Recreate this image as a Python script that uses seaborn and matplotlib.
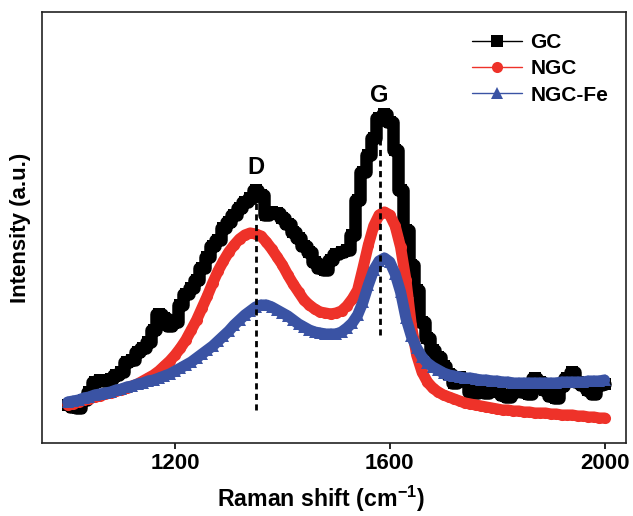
import numpy as np
import pandas as pd
import matplotlib
matplotlib.use("Agg")
import matplotlib.pyplot as plt
from matplotlib.lines import Line2D
import seaborn as sns

# ---- data (arbitrary intensity units) ----
wavenumber = list(range(1000, 2001, 10))

gc = [38, 36, 35, 43, 51, 61, 63, 62, 64, 68,
      71, 81, 83, 91, 95, 101, 113, 129, 125, 117,
      121, 138, 149, 155, 163, 175, 186, 197, 203, 215,
      221, 228, 235, 241, 245, 253, 248, 228, 231, 230,
      225, 219, 211, 205, 197, 191, 181, 175, 173, 183,
      189, 191, 193, 208, 243, 271, 288, 305, 325, 329,
      321, 293, 253, 213, 178, 153, 121, 105, 93, 86,
      77, 69, 60, 66, 63, 51, 50, 55, 50, 52,
      53, 48, 46, 51, 56, 51, 49, 65, 61, 53,
      47, 45, 57, 65, 71, 61, 58, 53, 49, 58,
      59]

ngc = [38, 39, 41, 43, 44, 46, 47, 49, 50, 52,
       53, 55, 57, 59, 62, 65, 68, 72, 77, 82,
       88, 95, 103, 113, 123, 135, 147, 160, 172, 182,
       191, 198, 204, 208, 210, 209, 207, 201, 194, 186,
       178, 168, 159, 151, 143, 138, 134, 131, 130, 129,
       130, 132, 137, 144, 153, 175, 198, 217, 228, 231,
       228, 217, 196, 163, 118, 88, 71, 61, 55, 51,
       48, 46, 44, 42, 40, 39, 38, 37, 36, 35,
       34, 33, 33, 32, 32, 31, 31, 30, 30, 30,
       29, 29, 28, 28, 28, 27, 27, 26, 26, 25,
       25]

ngc_fe = [41, 42, 43, 45, 46, 48, 49, 50, 51, 53,
          54, 56, 57, 59, 60, 62, 63, 65, 67, 69,
          72, 75, 78, 81, 85, 89, 93, 97, 102, 107,
          112, 118, 123, 128, 132, 136, 138, 138, 136, 133,
          130, 127, 123, 119, 116, 113, 111, 110, 109, 109,
          109, 111, 115, 120, 128, 141, 158, 173, 182, 185,
          181, 169, 151, 125, 107, 95, 86, 80, 76, 73,
          70, 68, 67, 66, 65, 65, 64, 63, 63, 62,
          62, 61, 61, 60, 60, 60, 60, 60, 60, 60,
          60, 60, 61, 61, 61, 61, 61, 62, 62, 62,
          63]

series_names = ["GC", "NGC", "NGC-Fe"]
series_colors = ["#000000", "#EE3229", "#3A53A4"]
series_markers = ["s", "o", "^"]

band_labels = ["D", "G"]
band_positions = [1351, 1581]
band_line_low = [33, 108]
band_line_high = [253, 325]
band_label_height = [275, 348]

# ---- style ----
sns.set_theme(style="white")
plt.rcParams["font.family"] = ["Liberation Sans", "DejaVu Sans"]
plt.rcParams["font.weight"] = "bold"
plt.rcParams["text.color"] = "black"
plt.rcParams["axes.labelcolor"] = "black"
plt.rcParams["xtick.color"] = "black"
plt.rcParams["mathtext.fontset"] = "custom"
plt.rcParams["mathtext.bf"] = "Liberation Sans:bold"
plt.rcParams["mathtext.rm"] = "Liberation Sans:bold"

fig = plt.figure(figsize=(6.33, 5.16), dpi=100)
ax = fig.add_axes([42 / 633, 1 - 443 / 516, (626 - 42) / 633, (443 - 12) / 516])

df = pd.DataFrame({"Raman shift": wavenumber * 3,
                   "Intensity": gc + ngc + ngc_fe,
                   "Sample": ["GC"] * len(gc) + ["NGC"] * len(ngc) + ["NGC-Fe"] * len(ngc_fe)})

for name, col, mk in zip(series_names, series_colors, series_markers):
    sub = df[df["Sample"] == name]
    if name == "GC":
        kw = dict(drawstyle="steps-mid", linewidth=9, markersize=8)
    else:
        kw = dict(linewidth=8, markersize=8)
    sns.lineplot(data=sub, x="Raman shift", y="Intensity", ax=ax, color=col,
                 marker=mk, markeredgewidth=0,
                 legend=False, estimator=None, sort=False, **kw)

for lab, xp, lo, hi, th in zip(band_labels, band_positions, band_line_low,
                               band_line_high, band_label_height):
    ax.plot([xp, xp], [lo, hi], color="black", linestyle=(0, (2.2, 1.6)), linewidth=2)
    ax.text(xp, th, lab, ha="center", va="center", fontsize=17, fontweight="bold",
            color="black")

ax.set_xlim(952, 2040)
ax.set_ylim(0, 431)
ax.set_xticks([1200, 1600, 2000])
ax.set_yticks([])
ax.tick_params(axis="x", direction="out", length=4, width=1.2, colors="black",
               labelsize=16, pad=3, bottom=True)
for lbl in ax.get_xticklabels():
    lbl.set_fontweight("bold")
for sp in ax.spines.values():
    sp.set_visible(True)
    sp.set_color("#222222")
    sp.set_linewidth(1.2)

ax.set_xlabel("Raman shift (cm$^{\\mathbf{-1}}$)", fontsize=16.7, fontweight="bold",
              labelpad=2, color="black")
ax.xaxis.set_label_coords((321 - 42) / 584, -0.095)
ax.set_ylabel("Intensity (a.u.)", fontsize=16, fontweight="bold", labelpad=8, color="black")

handles = [Line2D([0], [0], color=c, lw=1, marker=m, markersize=8, markeredgewidth=0)
           for c, m in zip(series_colors, series_markers)]
leg = ax.legend(handles, series_names, loc="upper right", bbox_to_anchor=(0.995, 0.985),
                frameon=False, fontsize=15, handlelength=2.4, handletextpad=0.4,
                labelspacing=0.35, borderaxespad=0.3)
for t in leg.get_texts():
    t.set_fontweight("bold")
    t.set_color("black")

fig.savefig("out.png", dpi=100)
